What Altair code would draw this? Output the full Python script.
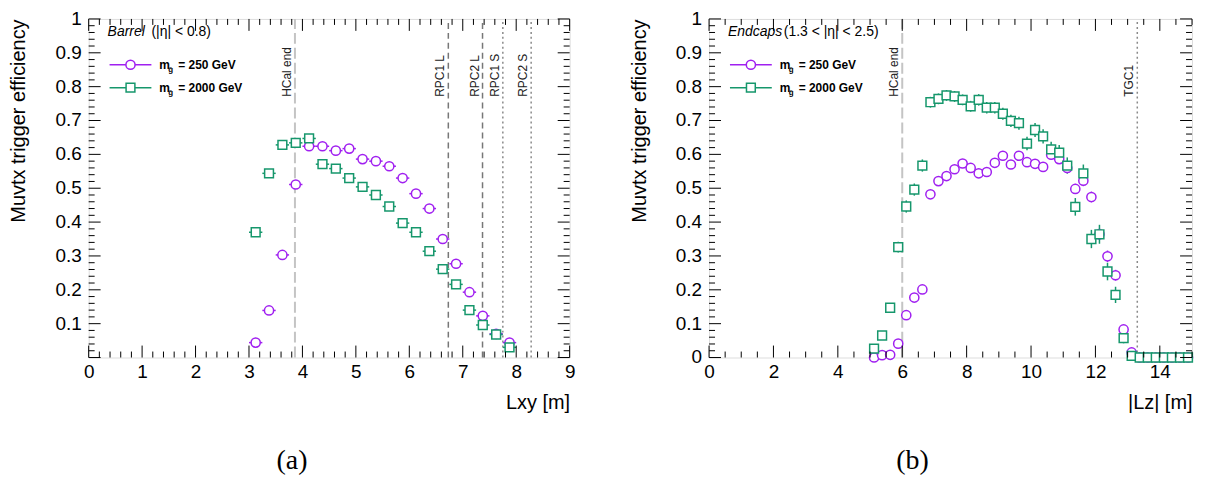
import altair as alt
import pandas as pd

PURPLE = "#a020f0"
GREEN = "#16976c"
FONT = "Liberation Sans"

# ---------------- (a) Barrel ----------------
barrel_lxy = [3.125, 3.375, 3.625, 3.875, 4.125, 4.375, 4.625, 4.875, 5.125, 5.375,
              5.625, 5.875, 6.125, 6.375, 6.625, 6.875, 7.125, 7.375, 7.625, 7.875]
barrel_eff_250 = [0.044, 0.139, 0.303, 0.511, 0.624, 0.624, 0.611, 0.617, 0.586, 0.580,
                  0.565, 0.530, 0.484, 0.440, 0.350, 0.277, 0.193, 0.123, 0.070, 0.044]
barrel_err_250 = [0.004, 0.006, 0.008, 0.008, 0.008, 0.008, 0.008, 0.008, 0.008, 0.008,
                  0.008, 0.008, 0.008, 0.008, 0.008, 0.008, 0.007, 0.006, 0.005, 0.004]
barrel_eff_2000 = [0.370, 0.544, 0.628, 0.634, 0.647, 0.571, 0.558, 0.530, 0.504, 0.480,
                   0.446, 0.397, 0.370, 0.314, 0.261, 0.216, 0.140, 0.096, 0.068, 0.030]
barrel_err_2000 = [0.007, 0.007, 0.007, 0.007, 0.007, 0.007, 0.007, 0.007, 0.007, 0.007,
                   0.007, 0.007, 0.007, 0.007, 0.007, 0.007, 0.006, 0.005, 0.005, 0.004]
barrel_lines_x = [3.86, 6.73, 7.37, 7.75, 8.28]
barrel_lines_label = ["HCal end", "RPC1 L", "RPC2 L", "RPC1 S", "RPC2 S"]
barrel_lines_style = ["hcal", "dash", "dash", "dot", "dot"]

# ---------------- (b) Endcaps ----------------
endcap_lz = [5.125, 5.375, 5.625, 5.875, 6.125, 6.375, 6.625, 6.875, 7.125, 7.375,
             7.625, 7.875, 8.125, 8.375, 8.625, 8.875, 9.125, 9.375, 9.625, 9.875,
             10.125, 10.375, 10.625, 10.875, 11.125, 11.375, 11.625, 11.875, 12.125, 12.375,
             12.625, 12.875, 13.125, 13.375, 13.625, 13.875, 14.125, 14.375, 14.625, 14.875]
endcap_eff_250 = [0.000, 0.007, 0.008, 0.041, 0.125, 0.177, 0.201, 0.482, 0.521, 0.536,
                  0.556, 0.573, 0.560, 0.544, 0.548, 0.575, 0.596, 0.570, 0.596, 0.577,
                  0.572, 0.563, 0.599, 0.586, 0.560, 0.498, 0.522, 0.474, 0.364, 0.299,
                  0.243, 0.083, 0.015, 0.0, 0.0, 0.0, 0.0, 0.0, 0.0, 0.0]
endcap_err_250 = [0.002, 0.003, 0.004, 0.008, 0.010, 0.011, 0.012, 0.013, 0.013, 0.013,
                  0.013, 0.013, 0.013, 0.013, 0.013, 0.013, 0.013, 0.013, 0.013, 0.013,
                  0.013, 0.013, 0.014, 0.014, 0.014, 0.015, 0.016, 0.016, 0.017, 0.017,
                  0.016, 0.012, 0.005, 0.0, 0.0, 0.0, 0.0, 0.0, 0.0, 0.0]
endcap_eff_2000 = [0.026, 0.065, 0.147, 0.326, 0.446, 0.496, 0.567, 0.754, 0.764, 0.774,
                   0.771, 0.761, 0.742, 0.761, 0.738, 0.738, 0.720, 0.699, 0.692, 0.632,
                   0.672, 0.653, 0.615, 0.605, 0.567, 0.445, 0.544, 0.350, 0.364, 0.254,
                   0.185, 0.057, 0.005, 0.0, 0.0, 0.0, 0.0, 0.0, 0.0, 0.0]
endcap_err_2000 = [0.008, 0.010, 0.013, 0.016, 0.018, 0.018, 0.018, 0.016, 0.016, 0.016,
                   0.016, 0.016, 0.016, 0.017, 0.017, 0.017, 0.018, 0.018, 0.019, 0.020,
                   0.021, 0.021, 0.022, 0.023, 0.024, 0.026, 0.026, 0.027, 0.028, 0.026,
                   0.024, 0.015, 0.005, 0.0, 0.0, 0.0, 0.0, 0.0, 0.0, 0.0]
endcap_lines_x = [6.0, 13.3]
endcap_lines_label = ["HCal end", "TGC1"]
endcap_lines_style = ["hcal", "dot"]

BIN_HALF = 0.125
Y_LABELS_A = ["0.1", "0.2", "0.3", "0.4", "0.5", "0.6", "0.7", "0.8", "0.9", "1"]
Y_LABELS_B = ["0", "0.1", "0.2", "0.3", "0.4", "0.5", "0.6", "0.7", "0.8", "0.9", "1"]
X_LABELS_A = [0, 1, 2, 3, 4, 5, 6, 7, 8, 9]
X_LABELS_B = [0, 2, 4, 6, 8, 10, 12, 14]

PLOT_H = 340
STYLES = {
    "hcal": dict(color="#c4c4c4", strokeDash=[11, 4], strokeWidth=2),
    "dash": dict(color="#777777", strokeDash=[6, 4], strokeWidth=1.5),
    "dot": dict(color="#8a8a8a", strokeDash=[2, 3], strokeWidth=1.5),
}


def series_df(xs, ys, errs):
    return pd.DataFrame({
        "x": xs, "y": ys,
        "xlo": [v - BIN_HALF for v in xs], "xhi": [v + BIN_HALF for v in xs],
        "ylo": [a - e for a, e in zip(ys, errs)], "yhi": [a + e for a, e in zip(ys, errs)],
    })


def tick_df(xmax, x_major, x_minor, y_step_major, y_step_minor, width):
    xpp = xmax / width
    ypp = 1.0 / PLOT_H
    rows = []
    big, small = 12, 6
    nmaj_y = int(round(1 / y_step_major))
    nmin_y = int(round(1 / y_step_minor))
    for k in range(int(round(xmax / x_minor)) + 1):
        v = k * x_minor
        L = big if abs(v / x_major - round(v / x_major)) < 1e-6 else small
        rows.append((v, v, 0, L * ypp))
        rows.append((v, v, 1, 1 - L * ypp))
    for k in range(nmin_y + 1):
        v = k * y_step_minor
        L = big if (k % (nmin_y // nmaj_y)) == 0 else small
        rows.append((0, L * xpp, v, v))
        rows.append((xmax, xmax - L * xpp, v, v))
    return pd.DataFrame(rows, columns=["tx", "tx2", "ty", "ty2"])


def panel(xs, e250, r250, e2000, r2000, xmax, width, xlabels, ylabels, xtitle,
          lx, llab, lsty, head_it, head_rest, head_dx, caption, x_major, x_minor):
    d250 = series_df(xs, e250, r250)
    d2000 = series_df(xs, e2000, r2000)
    xscale = alt.Scale(domain=[0, xmax], nice=False, zero=False)
    yscale = alt.Scale(domain=[0, 1], nice=False, zero=False)

    axis_layer = alt.Chart(d250).mark_point(opacity=0).encode(
        x=alt.X("x:Q", scale=xscale, axis=alt.Axis(
            values=xlabels, format="~g", ticks=False, tickSize=0, domain=False, grid=False,
            labelFlush=False, labelOverlap=False, labelPadding=5, labelFontSize=19,
            labelFont=FONT, labelColor="black", title=xtitle, titleAnchor="end",
            titleFont=FONT, titleFontSize=20, titleFontWeight="normal", titleColor="black",
            titlePadding=11)),
        y=alt.Y("y:Q", scale=yscale, axis=alt.Axis(
            values=[0, 1], labels=False, ticks=False, tickSize=0, domain=False, grid=False,
            title="Muvtx trigger efficiency",
            titleAnchor="end", titleFont=FONT, titleFontSize=20, titleFontWeight="normal",
            titleColor="black", titlePadding=60)),
    )

    ylab_df = pd.DataFrame({"lab": ylabels, "v": [float(s) for s in ylabels]})
    ylab_layer = alt.Chart(ylab_df).mark_text(
        align="right", baseline="middle", fontSize=19, font=FONT, color="black",
        dx=-7).encode(x=alt.datum(0), y="v:Q", text="lab:N")

    ticks = alt.Chart(tick_df(xmax, x_major, x_minor, 0.1, 0.02, width)).mark_rule(
        color="black", strokeWidth=1).encode(
        x="tx:Q", x2="tx2:Q", y="ty:Q", y2="ty2:Q")

    ldf = pd.DataFrame({"lx": lx, "label": llab, "style": lsty})
    layers = [axis_layer, ylab_layer]
    for sty, props in STYLES.items():
        sub = ldf[ldf["style"] == sty]
        if len(sub) == 0:
            continue
        layers.append(alt.Chart(sub).mark_rule(**props).encode(
            x="lx:Q", y=alt.datum(0), y2=alt.datum(1)))
    layers.append(alt.Chart(ldf).mark_text(
        angle=270, align="left", baseline="bottom", fontSize=12, font=FONT,
        color="#222222", dy=-1).encode(
        x="lx:Q", y=alt.datum(0.77), text="label:N"))

    for d, col in [(d250, PURPLE), (d2000, GREEN)]:
        layers.append(alt.Chart(d).mark_rule(color=col, strokeWidth=1.5).encode(
            x="xlo:Q", x2="xhi:Q", y="y:Q"))
        layers.append(alt.Chart(d).mark_rule(color=col, strokeWidth=1.5).encode(
            x="x:Q", y="ylo:Q", y2="yhi:Q"))
    for d, col, shape, size in [(d250, PURPLE, "circle", 85), (d2000, GREEN, "square", 78)]:
        layers.append(alt.Chart(d).mark_point(
            shape=shape, size=size, filled=True, fill="white", stroke=col,
            strokeWidth=1.5, opacity=1).encode(x="x:Q", y="y:Q"))

    one = pd.DataFrame({"k": [0]})
    # header
    layers.append(alt.Chart(one).mark_text(
        align="left", baseline="middle", fontSize=14, font=FONT, fontStyle="italic",
        color="black").encode(x=alt.value(19), y=alt.value(13), text=alt.value(head_it)))
    layers.append(alt.Chart(one).mark_text(
        align="left", baseline="middle", fontSize=14, font=FONT, color="black").encode(
        x=alt.value(19 + head_dx), y=alt.value(13), text=alt.value(head_rest)))
    # legend entries
    for yy, col, shape, size, mass in [(46, PURPLE, "circle", 85, "= 250 GeV"),
                                       (69, GREEN, "square", 78, "= 2000 GeV")]:
        layers.append(alt.Chart(one).mark_rule(color=col, strokeWidth=1.5).encode(
            x=alt.value(21), x2=alt.value(63), y=alt.value(yy)))
        layers.append(alt.Chart(one).mark_point(
            shape=shape, size=size, filled=True, fill="white", stroke=col,
            strokeWidth=1.5, opacity=1).encode(x=alt.value(42), y=alt.value(yy)))
        layers.append(alt.Chart(one).mark_text(
            align="left", baseline="middle", fontSize=12, font=FONT, fontWeight="bold",
            color="black").encode(x=alt.value(71), y=alt.value(yy), text=alt.value("m")))
        layers.append(alt.Chart(one).mark_text(
            align="left", baseline="middle", fontSize=8, font=FONT, fontWeight="bold",
            color="black").encode(x=alt.value(80), y=alt.value(yy + 5), text=alt.value("g\u0303")))
        layers.append(alt.Chart(one).mark_text(
            align="left", baseline="middle", fontSize=12, font=FONT, fontWeight="bold",
            color="black").encode(x=alt.value(90), y=alt.value(yy), text=alt.value(mass)))

    layers.append(ticks)

    return alt.layer(*layers).properties(
        width=width, height=PLOT_H,
        title=alt.TitleParams(caption, orient="bottom", anchor="middle", frame="bounds",
                              font="Liberation Serif", fontSize=28, fontWeight="normal",
                              color="black", offset=35),
    )


left = panel(barrel_lxy, barrel_eff_250, barrel_err_250, barrel_eff_2000, barrel_err_2000,
             9, 483, X_LABELS_A, Y_LABELS_A, "Lxy [m]",
             barrel_lines_x, barrel_lines_label, barrel_lines_style,
             "Barrel", "(|\u03b7| < 0.8)", 44, "(a)", 1, 0.2)
right = panel(endcap_lz, endcap_eff_250, endcap_err_250, endcap_eff_2000, endcap_err_2000,
              15, 485, X_LABELS_B, Y_LABELS_B, "|Lz| [m]",
              endcap_lines_x, endcap_lines_label, endcap_lines_style,
              "Endcaps", "(1.3 < |\u03b7| < 2.5)", 56, "(b)", 2, 0.5)

chart = alt.hconcat(left, right, spacing=53).properties(
    padding={"left": 0, "top": 0, "right": 0, "bottom": 0}
).configure_view(stroke="black", strokeWidth=2).configure(background="white")

chart.save("out.html", embed_options={"renderer": "svg", "actions": False})
